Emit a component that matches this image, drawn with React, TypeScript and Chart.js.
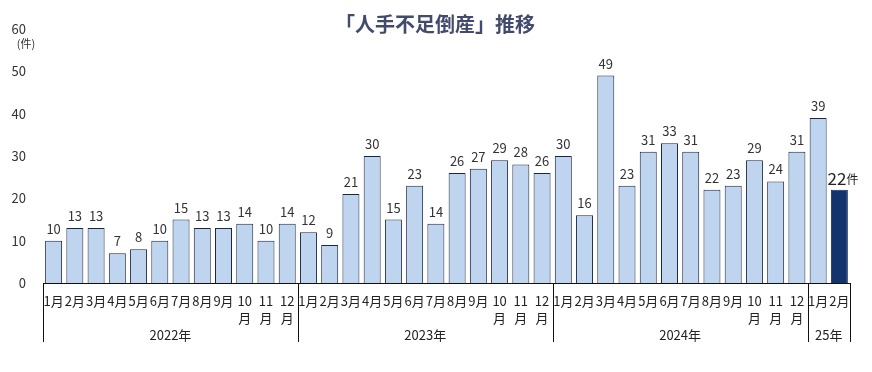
import React, { useEffect, useRef } from "react";
import { Chart, registerables } from "chart.js";
Chart.register(...registerables);

const months = ["1月","2月","3月","4月","5月","6月","7月","8月","9月","10月","11月","12月"];
const years = ["2022年", "2023年", "2024年", "25年"];
const yearCounts = [12, 12, 12, 2];
const values2022 = [10, 13, 13, 7, 8, 10, 15, 13, 13, 14, 10, 14];
const values2023 = [12, 9, 21, 30, 15, 23, 14, 26, 27, 29, 28, 26];
const values2024 = [30, 16, 49, 23, 31, 33, 31, 22, 23, 29, 24, 31];
const values2025 = [39, 22];
const yTicks = [0, 10, 20, 30, 40, 50, 60];
const title = "「人手不足倒産」推移";
const unit = "件";

const FONT = "'Noto Sans CJK JP', 'Noto Sans', sans-serif";

export default function App() {
  const ref = useRef<HTMLCanvasElement>(null);
  useEffect(() => {
    const values = [...values2022, ...values2023, ...values2024, ...values2025];
    const labels: (string | string[])[] = [];
    yearCounts.forEach((n) => {
      for (let i = 0; i < n; i++) {
        const m = months[i];
        labels.push(i >= 9 ? [m.replace("月", ""), "月"] : m);
      }
    });
    const last = values.length - 1;
    const bg = values.map((_, i) => (i === last ? "#12336b" : "#bfd5ef"));
    const bc = values.map((_, i) => (i === last ? "#12336b" : "#1a2740"));

    const overlay = {
      id: "overlay",
      afterDraw(chart: any) {
        const ctx = chart.ctx;
        const x = chart.scales.x;
        const area = chart.chartArea;
        ctx.save();
        // title
        ctx.fillStyle = "#434b6c";
        ctx.font = `bold 20px ${FONT}`;
        ctx.textAlign = "center";
        ctx.textBaseline = "middle";
        ctx.fillText(title, chart.width / 2 - 1, 24);
        // unit
        ctx.fillStyle = "#333";
        ctx.font = `11px ${FONT}`;
        ctx.fillText("(" + unit + ")", 26, 44);
        // value labels
        const meta = chart.getDatasetMeta(0);
        meta.data.forEach((bar: any, i: number) => {
          if (i === last) {
            ctx.fillStyle = "#222";
            ctx.font = `17px ${FONT}`;
            ctx.textAlign = "right";
            ctx.textBaseline = "alphabetic";
            ctx.fillText(String(values[i]), bar.x + 7, bar.y - 5);
            ctx.font = `12px ${FONT}`;
            ctx.textAlign = "left";
            ctx.fillText(unit, bar.x + 7, bar.y - 6);
          } else {
            ctx.fillStyle = "#333";
            ctx.font = `13px ${FONT}`;
            ctx.textAlign = "center";
            ctx.textBaseline = "alphabetic";
            ctx.fillText(String(values[i]), bar.x, bar.y - 7);
          }
        });
        // group separators and year labels
        const half = (x.getPixelForValue(1) - x.getPixelForValue(0)) / 2;
        ctx.strokeStyle = "#111";
        ctx.lineWidth = 1;
        let start = 0;
        const bottom = area.bottom + 59;
        const edges: number[] = [];
        yearCounts.forEach((n) => {
          edges.push(x.getPixelForValue(start) - half);
          start += n;
        });
        edges.push(x.getPixelForValue(start - 1) + half);
        edges.forEach((ex) => {
          const px = Math.round(ex) + 0.5;
          ctx.beginPath();
          ctx.moveTo(px, area.bottom);
          ctx.lineTo(px, bottom);
          ctx.stroke();
        });
        ctx.fillStyle = "#222";
        ctx.font = `13px ${FONT}`;
        ctx.textAlign = "center";
        ctx.textBaseline = "middle";
        years.forEach((yl, i) => {
          ctx.fillText(yl, (edges[i] + edges[i + 1]) / 2, area.bottom + 52);
        });
        ctx.restore();
      },
    };

    const chart = new Chart(ref.current!, {
      type: "bar",
      data: {
        labels,
        datasets: [
          {
            data: values,
            backgroundColor: bg,
            borderColor: bc,
            borderWidth: 1,
            categoryPercentage: 1,
            barPercentage: 0.8,
          },
        ],
      },
      options: {
        animation: false,
        responsive: false,
        layout: { padding: { top: 29, right: 22, left: 0, bottom: 0 } },
        plugins: { legend: { display: false }, tooltip: { enabled: false } },
        scales: {
          x: {
            grid: { display: false },
            border: { display: true, color: "#111", width: 1 },
            ticks: {
              autoSkip: false,
              maxRotation: 0,
              color: "#222",
              padding: 2,
              font: { family: FONT, size: 13, lineHeight: 1.3 },
            },
            afterFit(s: any) {
              s.height = 89;
            },
          },
          y: {
            min: 0,
            max: 60,
            grid: { display: false },
            border: { display: false },
            afterBuildTicks(s: any) {
              s.ticks = yTicks.map((v) => ({ value: v }));
            },
            ticks: {
              color: "#333",
              padding: 9,
              font: { family: FONT, size: 13 },
            },
            afterFit(s: any) {
              s.width = 43;
            },
          },
        },
      },
      plugins: [overlay],
    });
    return () => chart.destroy();
  }, []);
  return (
    <div style={{ position: "fixed", left: 0, top: 0, width: 872, height: 372, background: "#fff" }}>
      <canvas ref={ref} width={872} height={372} style={{ width: 872, height: 372 }} />
    </div>
  );
}
